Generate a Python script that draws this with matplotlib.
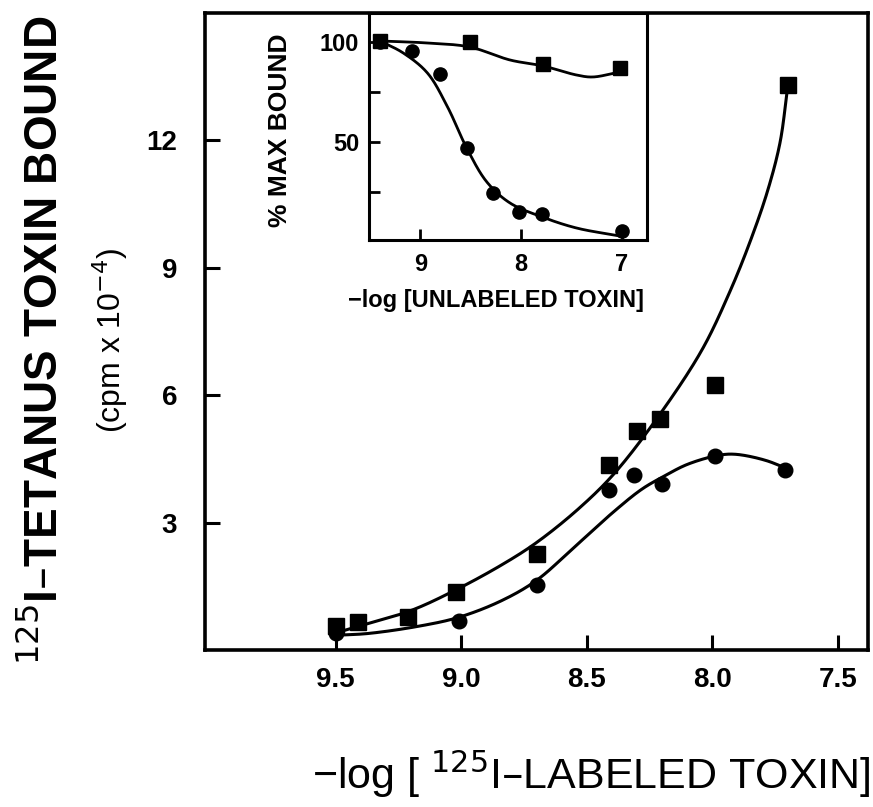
import numpy as np
import matplotlib
matplotlib.use("Agg")
import matplotlib.pyplot as plt

plt.rcParams['font.family'] = ['Liberation Sans', 'DejaVu Sans']

# main plot: -log [125I-labeled toxin] vs bound (cpm x 10^-4)
sq_x = [9.5, 9.41, 9.21, 9.02, 8.70, 8.41, 8.30, 8.21, 7.99, 7.70]
sq_y = [0.56, 0.66, 0.78, 1.36, 2.26, 4.35, 5.15, 5.45, 6.25, 13.3]
ci_x = [9.5, 9.01, 8.70, 8.41, 8.31, 8.20, 7.99, 7.71]
ci_y = [0.40, 0.68, 1.53, 3.78, 4.11, 3.92, 4.56, 4.23]

# fitted curves
sq_fit_x = [9.49, 9.39, 9.20, 9.03, 8.84, 8.70, 8.53, 8.39, 8.21, 8.04, 7.93, 7.85, 7.78, 7.73, 7.70]
sq_fit_y = [0.42, 0.59, 0.93, 1.39, 2.00, 2.53, 3.34, 4.16, 5.54, 7.08, 8.44, 9.61, 10.81, 11.96, 13.26]
ci_fit_x = [9.49, 9.37, 9.17, 9.01, 8.84, 8.70, 8.55, 8.39, 8.28, 8.19, 8.10, 7.98, 7.91, 7.79, 7.69]
ci_fit_y = [0.35, 0.39, 0.56, 0.77, 1.16, 1.64, 2.42, 3.27, 3.79, 4.10, 4.37, 4.58, 4.61, 4.47, 4.24]

# inset: -log [unlabeled toxin] vs % max bound
in_sq_x = [9.40, 8.51, 7.78, 7.02]
in_sq_y = [100.5, 100, 89, 87]
in_ci_x = [9.40, 9.08, 8.81, 8.54, 8.28, 8.02, 7.79, 7.0]
in_ci_y = [100, 95.5, 84, 47, 24.5, 15, 14, 5.5]

in_sq_fit_x = [9.40, 8.93, 8.51, 8.11, 7.78, 7.45, 7.29, 7.02]
in_sq_fit_y = [100.5, 99.5, 97.5, 91, 88, 83.5, 82.5, 85]
in_ci_fit_x = [9.40, 9.17, 8.93, 8.73, 8.54, 8.34, 8.11, 7.79, 7.45, 7.02]
in_ci_fit_y = [100.5, 94.5, 84.5, 67.5, 47, 30, 19.5, 12.5, 7, 3]


def smooth(ax, xs, ys, n=30):
    # centripetal catmull-rom in display space, just for drawing the curve
    tr = ax.transData
    p = tr.transform(np.column_stack([xs, ys]).astype(float))
    p = np.vstack([2 * p[0] - p[1], p, 2 * p[-1] - p[-2]])
    out = []
    for i in range(1, len(p) - 2):
        p0, p1, p2, p3 = p[i - 1], p[i], p[i + 1], p[i + 2]
        t0 = 0.0
        t1 = t0 + np.linalg.norm(p1 - p0) ** 0.5
        t2 = t1 + np.linalg.norm(p2 - p1) ** 0.5
        t3 = t2 + np.linalg.norm(p3 - p2) ** 0.5
        t = np.linspace(t1, t2, n, endpoint=False)[:, None]
        a1 = (t1 - t) / (t1 - t0) * p0 + (t - t0) / (t1 - t0) * p1
        a2 = (t2 - t) / (t2 - t1) * p1 + (t - t1) / (t2 - t1) * p2
        a3 = (t3 - t) / (t3 - t2) * p2 + (t - t2) / (t3 - t2) * p3
        b1 = (t2 - t) / (t2 - t0) * a1 + (t - t0) / (t2 - t0) * a2
        b2 = (t3 - t) / (t3 - t1) * a2 + (t - t1) / (t3 - t1) * a3
        out.append((t2 - t) / (t2 - t1) * b1 + (t - t1) / (t2 - t1) * b2)
    out.append(p[-2][None])
    c = tr.inverted().transform(np.vstack(out))
    return c[:, 0], c[:, 1]


fig = plt.figure(figsize=(8.73, 8.07), dpi=100)

ax = fig.add_axes([0.2348, 0.1945, 0.7595, 0.7894])
ax.set_xlim(10.02, 7.38)
ax.set_ylim(0, 15.0)
x, y = smooth(ax, sq_fit_x, sq_fit_y)
ax.plot(x, y, color="black", lw=2.2)
x, y = smooth(ax, ci_fit_x, ci_fit_y)
ax.plot(x, y, color="black", lw=2.2)
ax.plot(sq_x, sq_y, "s", color="black", ms=11.5)
ax.plot(ci_x, ci_y, "o", color="black", ms=10.5)

ax.set_xticks([9.5, 9.0, 8.5, 8.0, 7.5])
ax.set_xticklabels(["9.5", "9.0", "8.5", "8.0", "7.5"])
ax.set_yticks([3, 6, 9, 12])
ax.tick_params(direction="in", length=11, width=2.2, labelsize=20, top=False, right=False)
ax.tick_params(axis="y", pad=20)
ax.tick_params(axis="x", pad=12)
for lab in ax.get_xticklabels() + ax.get_yticklabels():
    lab.set_fontweight("bold")
for s in ax.spines.values():
    s.set_linewidth(2.6)

fig.text(0.050, 0.578, "$^{125}$I\u2013TETANUS TOXIN BOUND", rotation=90,
         ha="center", va="center", fontsize=33, fontweight="bold")
fig.text(0.126, 0.578, "(cpm x 10$^{-4}$)", rotation=90,
         ha="center", va="center", fontsize=23)
fig.text(0.997, 0.04, "\u2212log [ $^{125}$I\u2013LABELED TOXIN]",
         ha="right", va="center", fontsize=31)

# inset
ai = fig.add_axes([0.4227, 0.7026, 0.3184, 0.2813])
ai.set_xlim(9.51, 6.75)
ai.set_ylim(1, 114.5)
x, y = smooth(ai, in_sq_fit_x, in_sq_fit_y)
ai.plot(x, y, color="black", lw=2.0)
x, y = smooth(ai, in_ci_fit_x, in_ci_fit_y)
ai.plot(x, y, color="black", lw=2.0)
ai.plot(in_sq_x, in_sq_y, "s", color="black", ms=10)
ai.plot(in_ci_x, in_ci_y, "o", color="black", ms=9.5)
ai.set_xticks([9, 8, 7])
ai.set_xticklabels(["9", "8", "7"])
ai.set_yticks([25, 50, 75, 100])
ai.set_yticklabels(["", "50", "", "100"])
ai.tick_params(direction="in", length=8, width=2.0, labelsize=17, top=False, right=False)
ai.tick_params(axis="y", pad=7)
ai.tick_params(axis="x", pad=9)
for lab in ai.get_xticklabels() + ai.get_yticklabels():
    lab.set_fontweight("bold")
for s in ai.spines.values():
    s.set_linewidth(2.2)
fig.text(0.3207, 0.839, "% MAX BOUND", rotation=90, ha="center", va="center",
         fontsize=19, fontweight="bold")
fig.text(0.568, 0.628, "\u2212log [UNLABELED TOXIN]", ha="center", va="center",
         fontsize=17, fontweight="bold")

fig.savefig("out.png", dpi=100)
